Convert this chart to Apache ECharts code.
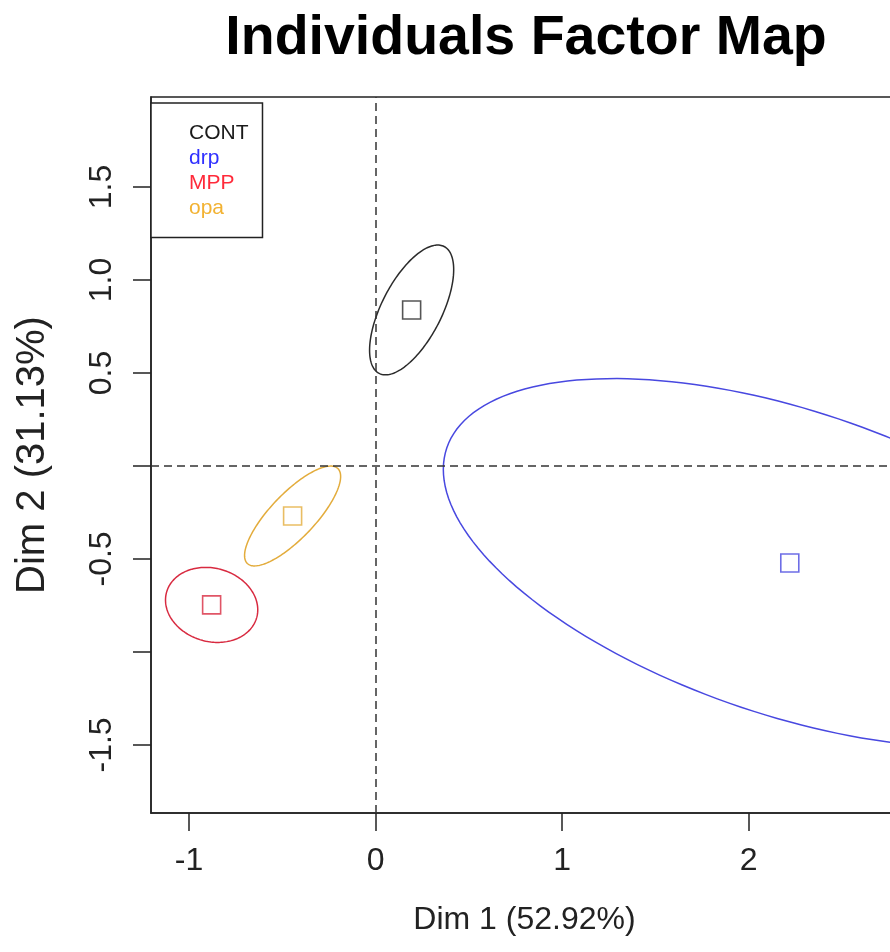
<!DOCTYPE html>
<html>
<head>
<meta charset="utf-8">
<script src="https://cdn.jsdelivr.net/npm/echarts@6/dist/echarts.min.js"></script>
<style>html,body{margin:0;padding:0;background:#fff;}#chart{width:890px;height:952px;}</style>
</head>
<body>
<div id="chart"></div>
<script>
// ---- data ----
const groups = ['CONT', 'drp', 'MPP', 'opa'];
const dim1 = [0.193, 2.22, -0.879, -0.445];
const dim2 = [0.839, -0.522, -0.747, -0.269];
// confidence ellipses: semi-axes (data units) and rotation of the major axis (degrees)
const ellA = [0.383, 1.94, 0.251, 0.352];
const ellB = [0.161, 0.818, 0.197, 0.120];
const ellAngle = [63, -18.6, -16.2, 46.5];
const xTicks = [-1, 0, 1, 2, 3];
const xTickLabels = [-1, 0, 1, 2];
const yTicks = [-1.5, -1, -0.5, 0, 0.5, 1, 1.5];
const yTickLabels = [-1.5, -0.5, 0.5, 1, 1.5];

const lineColors = ['#2b2b2b', '#4848e0', '#d82a40', '#e3ac3c'];
const textColors = ['#1a1a1a', '#3030ff', '#ff2a3a', '#f2b232'];
const FONT = 'Liberation Sans, Arial, sans-serif';

const chart = echarts.init(document.getElementById('chart'), null, {renderer: 'canvas'});

const scatterSeries = groups.map((g, i) => ({
  type: 'scatter',
  name: g,
  data: [[dim1[i], dim2[i]]],
  symbol: 'rect',
  symbolSize: 18,
  itemStyle: {color: 'rgba(0,0,0,0)', borderColor: lineColors[i], borderWidth: 1.6},
  silent: true,
  z: 5
}));

scatterSeries[0].markLine = {
  silent: true,
  symbol: ['none', 'none'],
  label: {show: false},
  lineStyle: {color: '#333', width: 1.5, type: [8, 5]},
  data: [{xAxis: 0}, {yAxis: 0}],
  animation: false
};

const ellipseSeries = {
  type: 'custom',
  name: 'ellipses',
  coordinateSystem: 'cartesian2d',
  data: groups.map((g, i) => [dim1[i], dim2[i], ellA[i], ellB[i], ellAngle[i]]),
  encode: {x: 0, y: 1},
  clip: true,
  silent: true,
  renderItem: function (params, api) {
    const cx = api.value(0), cy = api.value(1), a = api.value(2), b = api.value(3);
    const ang = api.value(4) * Math.PI / 180;
    const pts = [];
    const n = 180;
    for (let k = 0; k <= n; k++) {
      const t = 2 * Math.PI * k / n;
      const x = cx + a * Math.cos(t) * Math.cos(ang) - b * Math.sin(t) * Math.sin(ang);
      const y = cy + a * Math.cos(t) * Math.sin(ang) + b * Math.sin(t) * Math.cos(ang);
      pts.push(api.coord([x, y]));
    }
    return {
      type: 'polyline',
      shape: {points: pts},
      style: {stroke: lineColors[params.dataIndex], fill: null, lineWidth: 1.5}
    };
  },
  z: 4
};

const option = {
  animation: false,
  backgroundColor: '#ffffff',
  textStyle: {fontFamily: FONT},
  title: {
    text: 'Individuals Factor Map',
    left: 521,
    textAlign: 'center',
    top: 6,
    textStyle: {fontFamily: FONT, fontWeight: 'bold', fontSize: 55.5, color: '#000'}
  },
  legend: {
    orient: 'vertical',
    left: 151,
    top: 103,
    selectedMode: false,
    icon: 'none',
    itemWidth: 0,
    itemHeight: 10,
    itemGap: 0.6,
    padding: [18, 14, 17, 33],
    borderColor: '#222',
    borderWidth: 1.5,
    backgroundColor: '#fff',
    textStyle: {fontFamily: FONT, fontSize: 21, lineHeight: 24.4},
    data: groups.map((g, i) => ({name: g, textStyle: {color: textColors[i]}}))
  },
  grid: {
    left: 151,
    top: 97,
    width: 747,
    height: 716,
    show: true,
    borderColor: '#222',
    borderWidth: 1.5,
    containLabel: false,
    outerBoundsMode: 'none'
  },
  xAxis: {
    type: 'value',
    min: -1.204,
    max: 2.8,
    name: 'Dim 1 (52.92%)',
    nameLocation: 'middle',
    nameGap: 91,
    nameTextStyle: {fontFamily: FONT, fontSize: 32, color: '#222'},
    axisLine: {show: true, onZero: false, lineStyle: {color: '#222', width: 1.5}},
    axisTick: {show: true, inside: false, length: 18, customValues: xTicks, lineStyle: {color: '#222', width: 1.5}},
    axisLabel: {
      show: true, margin: 32, fontSize: 32, fontFamily: FONT, color: '#222',
      customValues: xTickLabels,
      formatter: v => String(Math.round(v))
    },
    splitLine: {show: false}
  },
  yAxis: {
    type: 'value',
    min: -1.866,
    max: 1.984,
    name: 'Dim 2 (31.13%)',
    nameLocation: 'middle',
    nameGap: 98,
    nameRotate: 90,
    nameTextStyle: {fontFamily: FONT, fontSize: 40, color: '#222'},
    axisLine: {show: true, onZero: false, lineStyle: {color: '#222', width: 1.5}},
    axisTick: {show: true, inside: false, length: 18, customValues: yTicks, lineStyle: {color: '#222', width: 1.5}},
    axisLabel: {
      show: true, margin: 33, fontSize: 32, fontFamily: FONT, color: '#222', rotate: 90,
      customValues: yTickLabels,
      formatter: v => v.toFixed(1)
    },
    splitLine: {show: false}
  },
  series: [ellipseSeries].concat(scatterSeries)
};

chart.setOption(option);
</script>
</body>
</html>
